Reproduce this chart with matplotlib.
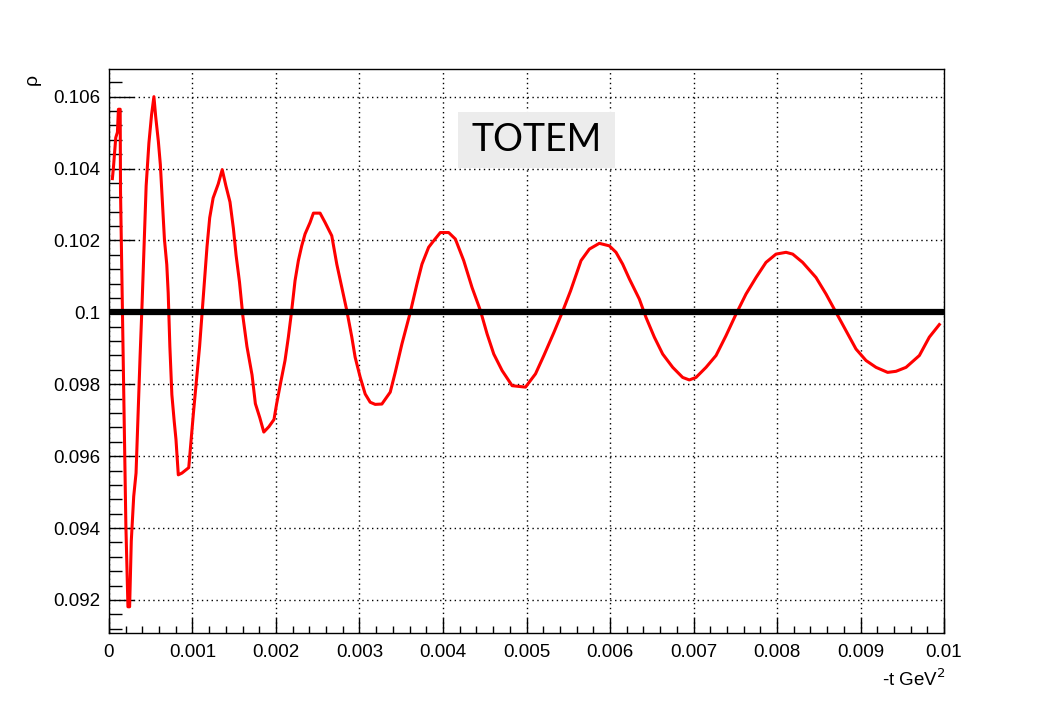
import numpy as np
import matplotlib.pyplot as plt
from matplotlib.ticker import MultipleLocator, FixedLocator
from matplotlib.patches import Rectangle

# -t values (GeV^2) and rho
t = [0.0000405, 0.0000526, 0.000081, 0.000101, 0.000113, 0.000134, 0.000138,
     0.000154, 0.00017, 0.000186, 0.000202, 0.000227, 0.000247, 0.000267,
     0.000296, 0.000324, 0.000348, 0.000372, 0.000397, 0.000421, 0.000445,
     0.000478, 0.00051, 0.000538, 0.000559, 0.000591, 0.000615, 0.00064,
     0.000664, 0.000692, 0.000709, 0.000729, 0.000753, 0.000781, 0.000802,
     0.00083, 0.000874, 0.000955, 0.000984, 0.001012, 0.001045, 0.001085,
     0.001117, 0.001146, 0.001174, 0.001206, 0.001247, 0.001308, 0.001356,
     0.0014, 0.001449, 0.00149, 0.001522, 0.001563, 0.001603, 0.001652,
     0.001713, 0.001753, 0.001806, 0.001854, 0.001915, 0.001976, 0.002008,
     0.002057, 0.002108, 0.002148, 0.002188, 0.002228, 0.002268, 0.002308,
     0.002348, 0.002408, 0.002448, 0.002528, 0.002588, 0.002668, 0.002728,
     0.002788, 0.002848, 0.002908, 0.002948, 0.003008, 0.003068, 0.003128,
     0.003188, 0.003268, 0.003368, 0.003428, 0.003508, 0.003608, 0.003688,
     0.003748, 0.003828, 0.003888, 0.003968, 0.004068, 0.004148, 0.004248,
     0.004348, 0.004448, 0.004528, 0.004608, 0.004708, 0.004828, 0.004988,
     0.005108, 0.005208, 0.005328, 0.005428, 0.005528, 0.005653, 0.005753,
     0.005872, 0.005992, 0.006072, 0.006152, 0.006232, 0.006351, 0.006431,
     0.006531, 0.006631, 0.006751, 0.00687, 0.00695, 0.00703, 0.00715,
     0.00727, 0.007389, 0.007509, 0.007629, 0.007749, 0.007868, 0.007988,
     0.008108, 0.008188, 0.008307, 0.008467, 0.008587, 0.008707, 0.008826,
     0.008946, 0.009066, 0.009186, 0.009325, 0.009425, 0.009545, 0.009705,
     0.009824, 0.009944]
rho = [0.10372, 0.10401, 0.10486, 0.10501, 0.10565, 0.10565, 0.10337,
       0.10104, 0.09871, 0.09642, 0.09409, 0.09181, 0.09181, 0.09364,
       0.09488, 0.09553, 0.09717, 0.09875, 0.10029, 0.10193, 0.10352,
       0.10471, 0.1055, 0.106, 0.10545, 0.10476, 0.10411, 0.10302,
       0.10203, 0.10133, 0.10054, 0.09905, 0.09771, 0.09697, 0.09647,
       0.09548, 0.09553, 0.09568, 0.09647, 0.09722, 0.09806, 0.09905,
       0.10005, 0.10099, 0.10183, 0.10263, 0.10318, 0.10357, 0.10397,
       0.10352, 0.10307, 0.10233, 0.10159, 0.10084, 0.0999, 0.09905,
       0.09826, 0.09746, 0.09707, 0.09667, 0.09682, 0.09702, 0.09746,
       0.09806, 0.09866, 0.09931, 0.10005, 0.10088, 0.10144, 0.10185,
       0.10218, 0.1025, 0.10276, 0.10276, 0.1025, 0.10213, 0.10134,
       0.10069, 0.10005, 0.09931, 0.09875, 0.0982, 0.09773, 0.0975,
       0.09744, 0.09745, 0.09778, 0.09833, 0.09912, 0.1, 0.10079,
       0.10134, 0.10181, 0.10199, 0.10222, 0.10222, 0.10204, 0.10144,
       0.10069, 0.10005, 0.0994, 0.09884, 0.09838, 0.09796, 0.09792,
       0.09829, 0.0988, 0.09944, 0.1, 0.1006, 0.10144, 0.10176,
       0.10192, 0.10185, 0.10167, 0.10134, 0.10093, 0.10037, 0.09986,
       0.09931, 0.09884, 0.09847, 0.09819, 0.09812, 0.09819, 0.09847,
       0.0988, 0.09935, 0.09995, 0.10051, 0.10097, 0.10139, 0.10162,
       0.10167, 0.10162, 0.10139, 0.10097, 0.10051, 0.1, 0.09949,
       0.09898, 0.09866, 0.09847, 0.09833, 0.09836, 0.09847, 0.0988,
       0.09931, 0.09966]

rho_ref = 0.1
x_ticks = [0, 0.001, 0.002, 0.003, 0.004, 0.005, 0.006, 0.007, 0.008, 0.009, 0.01]
x_labels = ["0", "0.001", "0.002", "0.003", "0.004", "0.005", "0.006", "0.007", "0.008", "0.009", "0.01"]
y_ticks = [0.092, 0.094, 0.096, 0.098, 0.1, 0.102, 0.104, 0.106]
y_labels = ["0.092", "0.094", "0.096", "0.098", "0.1", "0.102", "0.104", "0.106"]

plt.rcParams['font.family'] = ['Liberation Sans', 'DejaVu Sans']

fig = plt.figure(figsize=(10.4, 7.2), dpi=100)
ax = fig.add_axes([0.1048, 0.1208, 0.8029, 0.7834])

ax.plot(t, rho, color="red", lw=2.2, zorder=3)
ax.axhline(rho_ref, color="black", lw=4.5, zorder=4)

ax.set_xlim(0, 0.01)
ax.set_ylim(0.09108, 0.10677)

ax.xaxis.set_major_locator(FixedLocator(x_ticks))
ax.set_xticklabels(x_labels)
ax.yaxis.set_major_locator(FixedLocator(y_ticks))
ax.set_yticklabels(y_labels)
ax.xaxis.set_minor_locator(MultipleLocator(0.0002))
ax.yaxis.set_minor_locator(MultipleLocator(0.0004))

ax.tick_params(axis="x", which="major", direction="in", length=11, width=1, labelsize=13.5, pad=8)
ax.tick_params(axis="x", which="minor", direction="in", length=5, width=1)
ax.tick_params(axis="y", which="major", direction="in", length=18, width=1, labelsize=13.5, pad=6)
ax.tick_params(axis="y", which="minor", direction="in", length=9.5, width=1)

ax.grid(True, which="major", color="black", ls=(0, (1, 2.5)), lw=1)
ax.set_axisbelow(True)
for s in ax.spines.values():
    s.set_linewidth(1)

fig.text(0.031, 0.89, "ρ", fontsize=14, rotation=90, ha="center", va="center")
fig.text(0.909, 0.056, "-t GeV$^2$", fontsize=13.5, ha="right", va="center")

# TOTEM label box
fig.patches.append(Rectangle((0.4404, 0.7667), 0.1509, 0.0777, transform=fig.transFigure,
                             fc="#ececec", ec="none", zorder=5))
fig.text(0.5163, 0.8056, "TOTEM", fontsize=27, ha="center", va="center",
         family=["Lato", "DejaVu Sans"], zorder=6)

fig.savefig("out.png", dpi=100)
